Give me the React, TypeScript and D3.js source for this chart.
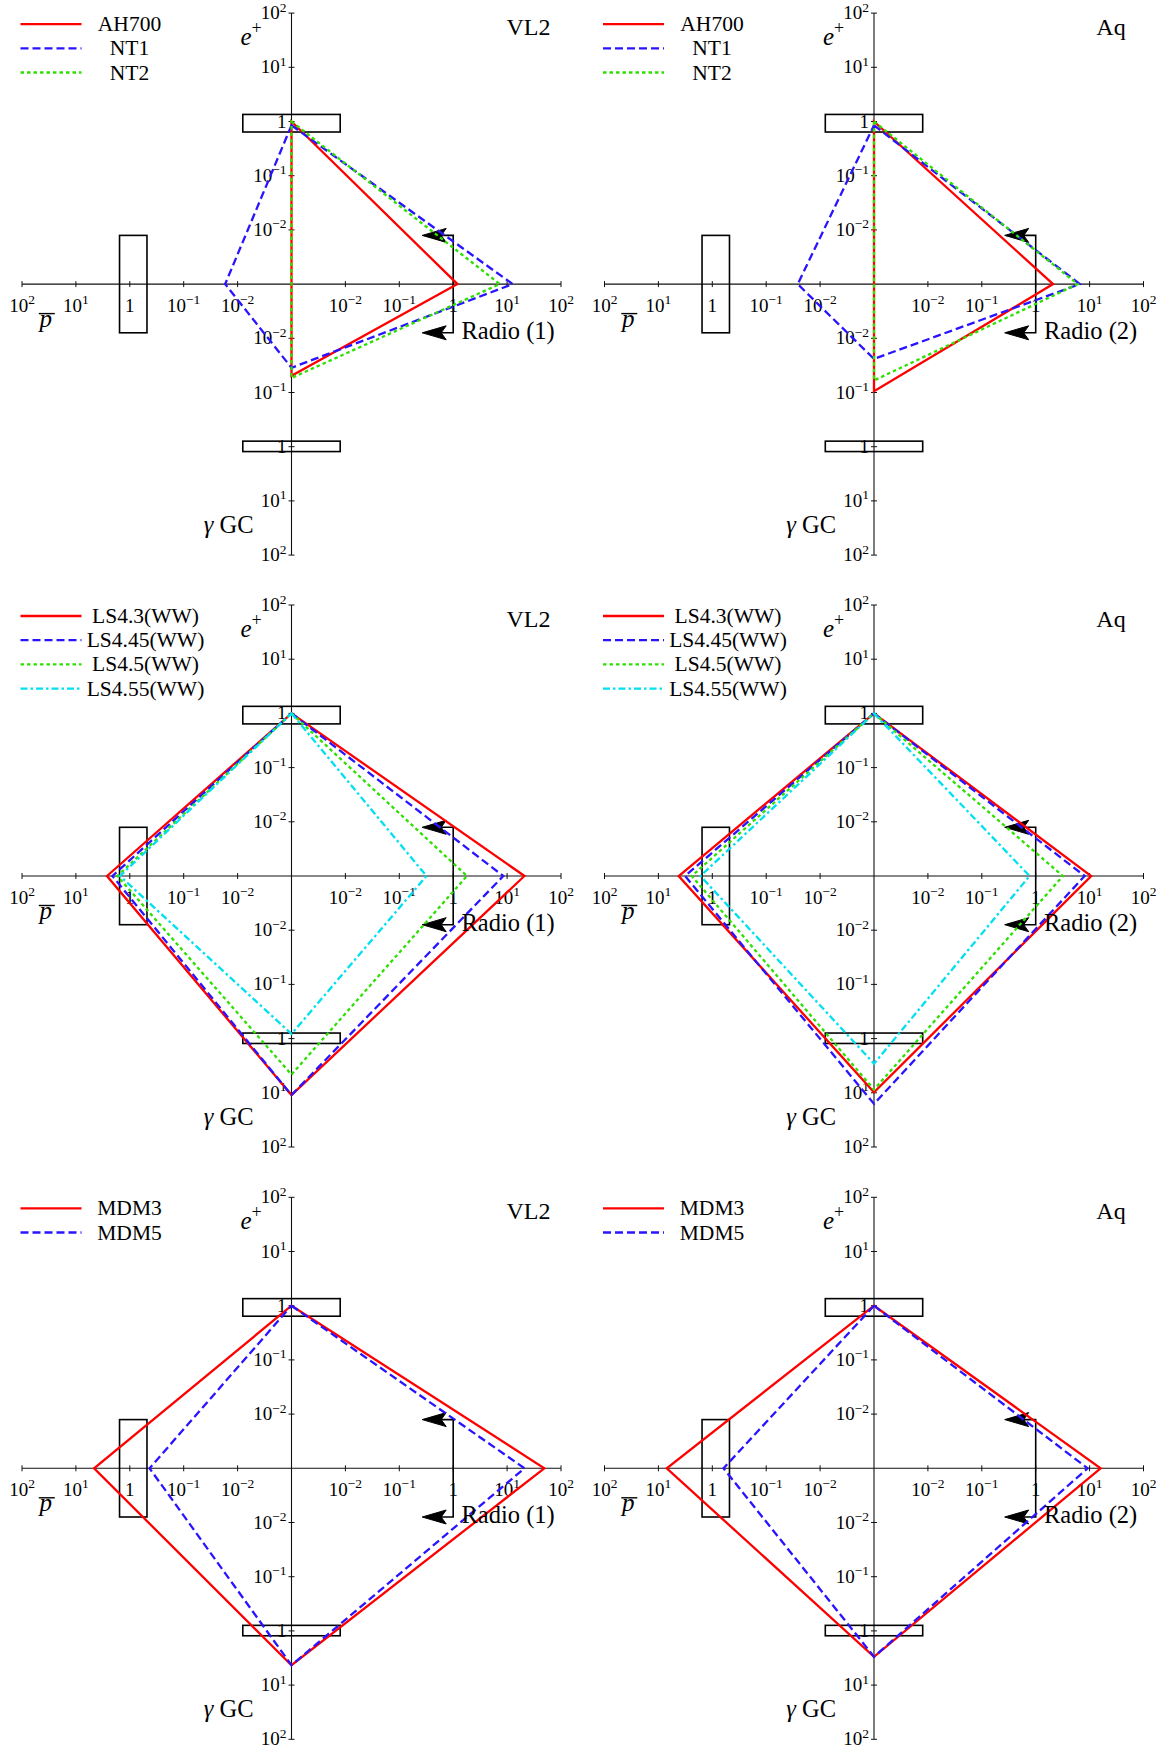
import React, { useEffect, useRef } from 'react';
import * as d3 from 'd3';

// each model row is [e+, pbar, gamma GC, radio]; 0 means below the plotted range
const topModels = ['AH700', 'NT1', 'NT2'];
const topVL2 = [
  [1.0, 0, 0.049, 1.2],
  [0.85, 0.017, 0.035, 12.7],
  [1.0, 0, 0.054, 7.3],
];
const topAq = [
  [1.0, 0, 0.095, 2.1],
  [0.85, 0.026, 0.024, 6.6],
  [1.0, 0, 0.06, 6.0],
];

const midModels = ['LS4.3(WW)', 'LS4.45(WW)', 'LS4.5(WW)', 'LS4.55(WW)'];
const midVL2 = [
  [1.0, 2.65, 11, 21],
  [1.0, 2.1, 11, 8.5],
  [1.0, 1.7, 4.6, 1.8],
  [1.0, 1.52, 0.82, 0.32],
];
const midAq = [
  [1.0, 4.2, 9.8, 10.7],
  [1.0, 3.2, 16, 8.1],
  [1.0, 2.4, 8.7, 3.2],
  [1.0, 1.66, 2.9, 0.77],
];

const botModels = ['MDM3', 'MDM5'];
const botVL2 = [
  [1.0, 4.6, 4.3, 49],
  [1.0, 0.43, 4.3, 21],
];
const botAq = [
  [1.0, 7.0, 3.0, 16],
  [1.0, 0.62, 3.0, 9.2],
];

const tickValues = [1e-2, 1e-1, 1, 1e1, 1e2];
const tickLabels = [['10', '−2'], ['10', '−1'], ['1', ''], ['10', '1'], ['10', '2']];

// observed ranges (boxes) and radio upper limit
const ePlusRange = [0.64, 1.35];
const pbarRange = [0.48, 1.55];
const gammaRange = [0.79, 1.23];
const radioLimit = 1;

const colors = ['#ff0000', '#2a14ff', '#2ee000', '#00e0f0'];
const dashes = ['', '8,4', '3.5,3', '7,3,2.5,3'];

const colX = [291.5, 874];
const rowY = [284.1, 876, 1468.3];
const HX = 269.5;
const HY = 271;
const BOX_HALF = 48.7;
const FONT = 'Liberation Serif, Times New Roman, serif';

const panels = [
  { col: 0, row: 0, models: topModels, data: topVL2, name: 'VL2', radio: 'Radio (1)', legDx: -162 },
  { col: 1, row: 0, models: topModels, data: topAq, name: 'Aq', radio: 'Radio (2)', legDx: -162 },
  { col: 0, row: 1, models: midModels, data: midVL2, name: 'VL2', radio: 'Radio (1)', legDx: -146 },
  { col: 1, row: 1, models: midModels, data: midAq, name: 'Aq', radio: 'Radio (2)', legDx: -146 },
  { col: 0, row: 2, models: botModels, data: botVL2, name: 'VL2', radio: 'Radio (1)', legDx: -162 },
  { col: 1, row: 2, models: botModels, data: botAq, name: 'Aq', radio: 'Radio (2)', legDx: -162 },
];

const App = () => {
  const ref = useRef<SVGSVGElement>(null);

  useEffect(() => {
    const svg = d3.select(ref.current);
    svg.selectAll('*').remove();

    const rx = d3.scaleLog().domain([1e-3, 1e2]).range([0, HX]).clamp(true);
    const ry = d3.scaleLog().domain([1e-3, 1e2]).range([0, HY]).clamp(true);
    const v = (x: number) => Math.max(x, 1e-3);

    const tickLabel = (g: any, x: number, y: number, anchor: string, lab: string[]) => {
      const t = g.append('text')
        .attr('x', x).attr('y', y)
        .attr('text-anchor', anchor)
        .attr('font-family', FONT)
        .attr('font-size', 19)
        .attr('fill', '#000');
      t.append('tspan').text(lab[0]);
      if (lab[1]) t.append('tspan').attr('dy', -7.5).attr('font-size', 13.5).text(lab[1]);
    };

    panels.forEach(p => {
      const cx = colX[p.col];
      const cy = rowY[p.row];
      const g = svg.append('g');

      // axes
      g.append('line').attr('x1', cx - HX).attr('x2', cx + HX).attr('y1', cy).attr('y2', cy)
        .attr('stroke', '#111').attr('stroke-width', 1.1);
      g.append('line').attr('x1', cx).attr('x2', cx).attr('y1', cy - HY).attr('y2', cy + HY)
        .attr('stroke', '#111').attr('stroke-width', 1.1);

      tickValues.forEach((t, i) => {
        const dx = rx(t);
        const dy = ry(t);
        [cx - dx, cx + dx].forEach(x => {
          g.append('line').attr('x1', x).attr('x2', x).attr('y1', cy - 3).attr('y2', cy + 3)
            .attr('stroke', '#111');
          tickLabel(g, x, cy + 27.5, 'middle', tickLabels[i]);
        });
        [cy - dy, cy + dy].forEach(y => {
          g.append('line').attr('x1', cx - 3).attr('x2', cx + 3).attr('y1', y).attr('y2', y)
            .attr('stroke', '#111');
          tickLabel(g, cx - 5, y + 6, 'end', tickLabels[i]);
        });
      });

      // observation boxes
      const box = (x0: number, x1: number, y0: number, y1: number) =>
        g.append('rect')
          .attr('x', Math.min(x0, x1)).attr('y', Math.min(y0, y1))
          .attr('width', Math.abs(x1 - x0)).attr('height', Math.abs(y1 - y0))
          .attr('fill', 'none').attr('stroke', '#000').attr('stroke-width', 1.6);
      box(cx - BOX_HALF, cx + BOX_HALF, cy - ry(ePlusRange[1]), cy - ry(ePlusRange[0]));
      box(cx - BOX_HALF, cx + BOX_HALF, cy + ry(gammaRange[0]), cy + ry(gammaRange[1]));
      box(cx - rx(pbarRange[1]), cx - rx(pbarRange[0]), cy - BOX_HALF, cy + BOX_HALF);

      // radio upper limit bracket
      const xr = cx + rx(radioLimit);
      g.append('path')
        .attr('d', `M${xr - 12},${cy - BOX_HALF}H${xr}V${cy + BOX_HALF}H${xr - 12}`)
        .attr('fill', 'none').attr('stroke', '#000').attr('stroke-width', 1.6);
      [cy - BOX_HALF, cy + BOX_HALF].forEach(y => {
        const xt = xr - 31;
        g.append('path')
          .attr('d', `M${xt},${y}L${xt + 24},${y - 7}L${xt + 19},${y}L${xt + 24},${y + 7}Z`)
          .attr('fill', '#000').attr('stroke', '#000').attr('stroke-width', 1)
          .attr('stroke-linejoin', 'miter');
      });

      // model polygons: e+ -> radio -> gamma -> pbar
      const line = d3.line<[number, number]>().curve(d3.curveLinearClosed);
      p.data.forEach((d, i) => {
        const pts: [number, number][] = [
          [cx, cy - ry(v(d[0]))],
          [cx + rx(v(d[3])), cy],
          [cx, cy + ry(v(d[2]))],
          [cx - rx(v(d[1])), cy],
        ];
        g.append('path')
          .attr('d', line(pts))
          .attr('fill', 'none')
          .attr('stroke', colors[i])
          .attr('stroke-width', 2.3)
          .attr('stroke-dasharray', dashes[i] || null)
          .attr('stroke-linejoin', 'miter');
      });

      // legend
      p.models.forEach((m, i) => {
        const y = cy - 260 + i * 24.2;
        g.append('line').attr('x1', cx - 271).attr('x2', cx - 210).attr('y1', y).attr('y2', y)
          .attr('stroke', colors[i]).attr('stroke-width', 2.3)
          .attr('stroke-dasharray', dashes[i] || null);
        g.append('text').attr('x', cx + p.legDx).attr('y', y + 7)
          .attr('text-anchor', 'middle').attr('font-family', FONT).attr('font-size', 21.5)
          .text(m);
      });

      // axis names
      g.append('text').attr('x', cx + 237).attr('y', cy - 249).attr('text-anchor', 'middle')
        .attr('font-family', FONT).attr('font-size', 24).text(p.name);

      const ep = g.append('text').attr('x', cx - 51).attr('y', cy - 239.5)
        .attr('font-family', FONT).attr('font-size', 25);
      ep.append('tspan').attr('font-style', 'italic').text('e');
      ep.append('tspan').attr('dy', -11).attr('font-size', 18).text('+');

      const gc = g.append('text').attr('x', cx - 38).attr('y', cy + 248.6).attr('text-anchor', 'end')
        .attr('font-family', FONT).attr('font-size', 24.5);
      gc.append('tspan').attr('font-style', 'italic').text('γ');
      gc.append('tspan').text(' GC');

      g.append('text').attr('x', cx - 252).attr('y', cy + 43)
        .attr('font-family', FONT).attr('font-size', 25).attr('font-style', 'italic').text('p');
      g.append('line').attr('x1', cx - 252.7).attr('x2', cx - 236.7)
        .attr('y1', cy + 29.5).attr('y2', cy + 29.5).attr('stroke', '#000').attr('stroke-width', 1.4);

      g.append('text').attr('x', cx + 170).attr('y', cy + 54.5)
        .attr('font-family', FONT).attr('font-size', 24.5).text(p.radio);
    });
  }, []);

  return (
    <div style={{ position: 'absolute', left: 0, top: 0 }}>
      <svg ref={ref} width={1167} height={1750} style={{ display: 'block', background: '#fff' }} />
    </div>
  );
};

export default App;
